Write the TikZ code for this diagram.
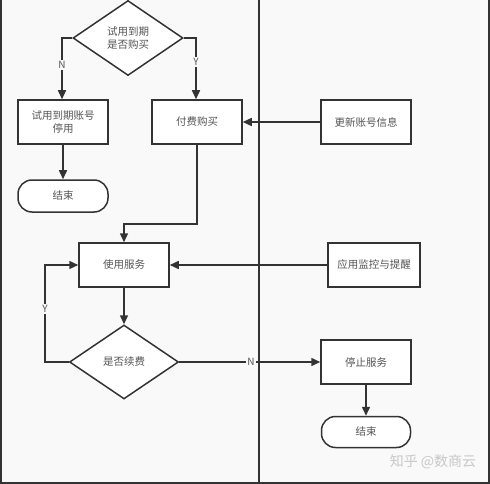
\documentclass[tikz,border=0pt]{standalone}
\usepackage{fontspec}
\newfontfamily\cjk{Noto Sans CJK SC}
\usetikzlibrary{shapes.geometric,arrows.meta}
\definecolor{bg}{HTML}{F9F9F9}
\definecolor{ln}{HTML}{333333}
\definecolor{tx}{HTML}{555555}
\definecolor{wm}{HTML}{C8C8C8}
\tikzset{
  every node/.style={font=\cjk\fontsize{10.5}{13}\selectfont, text=tx},
  box/.style={draw=ln, line width=1.5pt, fill=white, minimum width=90pt, minimum height=44pt, align=center, inner sep=0pt},
  term/.style={draw=ln, line width=1.5pt, fill=white, rounded corners=14pt, minimum width=90pt, minimum height=32pt, inner sep=0pt},
  dec/.style={draw=ln, line width=1.5pt, fill=white, diamond, inner sep=0pt, align=center},
  conn/.style={draw=ln, line width=1.5pt, -{Triangle[length=9pt,width=8pt]}},
  lbl/.style={fill=bg, inner sep=1pt, font=\cjk\fontsize{10}{12}\selectfont}
}
\begin{document}
\begin{tikzpicture}[x=1pt,y=-1pt]
\fill[bg] (0,0) rectangle (490,484);
\useasboundingbox (0,0) rectangle (490,484);
% lanes
\draw[ln, line width=1.5pt] (1,0) -- (1,483) -- (489,483) -- (489,0);
\draw[ln, line width=1.5pt] (259,0) -- (259,483);
% nodes
\node[dec, minimum width=110pt, minimum height=75pt] (d1) at (128,38) {试用到期\\是否购买};
\node[box] (stop1) at (63,122) {试用到期账号\\停用};
\node[box] (pay) at (197,122) {付费购买};
\node[term] (end1) at (63,196) {结束};
\node[box] (upd) at (366,122) {更新账号信息};
\node[box] (use) at (124,265) {使用服务};
\node[box, minimum width=92pt] (mon) at (374,265) {应用监控与提醒};
\node[dec, minimum width=109pt, minimum height=74pt] (d2) at (124,362) {是否续费};
\node[box] (stop2) at (366,362) {停止服务};
\node[term, minimum width=89pt, minimum height=31pt] (end2) at (366,432) {结束};
\coordinate (nl) at (62,38);
\coordinate (yr) at (196,38);
\coordinate (bend) at (124,224);
\coordinate (yl) at (45,362);
% connectors
\draw[conn] (d1.west) -- (nl) -- (stop1.north -| nl);
\node[lbl] at (62,65) {N};
\draw[conn] (d1.east) -- (yr) -- (pay.north -| yr);
\node[lbl] at (196,62) {Y};
\draw[conn] (stop1) -- (end1);
\draw[conn] (upd) -- (pay);
\draw[conn] (pay.south) |- (bend) -- (use.north);
\draw[conn] (mon) -- (use);
\draw[conn] (use) -- (d2);
\draw[conn] (d2.west) -- (yl) |- (use.west);
\node[lbl] at (45,309) {Y};
\draw[conn] (d2.east) -- (stop2.west);
\node[lbl] at (251,362) {N};
\draw[conn] (stop2) -- (end2);
% watermark
\node[text=wm, font=\cjk\fontsize{14}{16}\selectfont] (wmk) at (433,462) {知乎 @数商云};
\end{tikzpicture}
\end{document}
